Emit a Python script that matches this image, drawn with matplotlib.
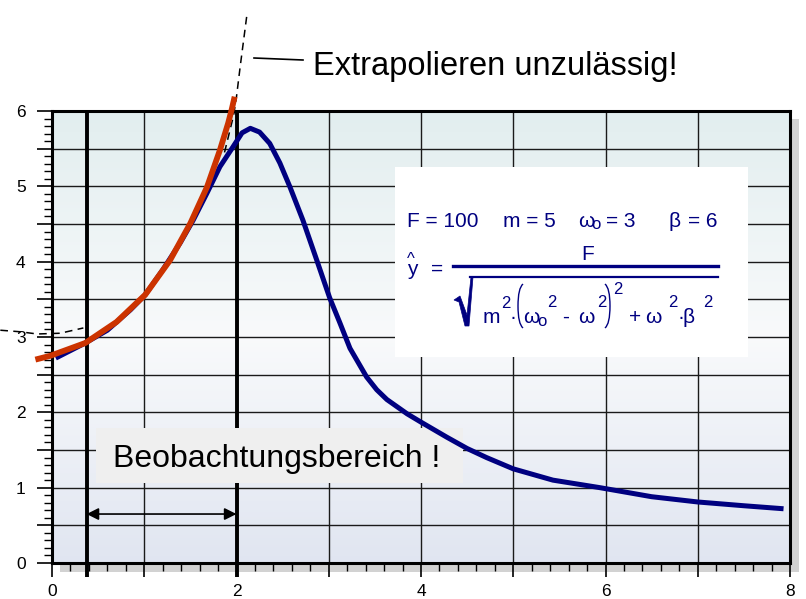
import numpy as np
import matplotlib
matplotlib.use("Agg")
import matplotlib.pyplot as plt
from matplotlib.patches import Rectangle, Polygon, PathPatch
from matplotlib.path import Path
from matplotlib.lines import Line2D
from matplotlib.ticker import MultipleLocator, FuncFormatter

plt.rcParams['font.family'] = ['Liberation Sans', 'DejaVu Sans']

# Messkurve (blau)
blue_x = [0.04, 0.36, 0.6, 0.85, 1.01, 1.2, 1.39, 1.53, 1.68, 1.82, 1.96, 2.06, 2.15, 2.25, 2.36,
          2.47, 2.58, 2.72, 2.87, 3.01, 3.12, 3.23, 3.41, 3.52, 3.63, 3.85, 4.0, 4.28, 4.5, 4.71,
          5.0, 5.43, 5.94, 6.5, 7.0, 7.5, 7.93]
blue_y = [2.72, 2.92, 3.09, 3.36, 3.56, 3.89, 4.25, 4.55, 4.91, 5.26, 5.52, 5.71, 5.77, 5.72, 5.57,
          5.31, 4.99, 4.55, 4.02, 3.52, 3.19, 2.85, 2.47, 2.30, 2.17, 1.98, 1.87, 1.67, 1.52, 1.40,
          1.25, 1.10, 1.0, 0.88, 0.81, 0.76, 0.72]

# Polynom im Beobachtungsbereich (orange)
fit_x = [-0.18, -0.02, 0.36, 0.7, 1.01, 1.28, 1.5, 1.68, 1.82, 1.91, 1.95, 1.98]
fit_y = [2.70, 2.75, 2.92, 3.20, 3.56, 4.02, 4.51, 4.99, 5.48, 5.84, 6.03, 6.19]

# Extrapolation (gestrichelt)
ext_hi_x = [1.87, 1.93, 1.97, 2.0, 2.04, 2.11]
ext_hi_y = [5.45, 5.75, 5.95, 6.19, 6.59, 7.25]
ext_lo_x = [-0.56, -0.35, -0.16, 0.09, 0.34]
ext_lo_y = [3.09, 3.07, 3.04, 3.05, 3.12]

range_lo, range_hi = 0.375, 2.0

W, H = 806, 599
def P(x, y):
    return (x / W, 1 - y / H)

fig = plt.figure(figsize=(W / 100, H / 100), dpi=100)
ax = fig.add_axes([52 / W, 1 - 563 / H, (790 - 52) / W, (563 - 111) / H])

# Schatten
fig.add_artist(Rectangle(P(60, 572), 739 / W, 453 / H, transform=fig.transFigure,
                         facecolor='#d2d2d2', edgecolor='none', zorder=-1))

# Hintergrundverlauf
t = np.linspace(0, 1, 256)
top = np.array([0.886, 0.933, 0.937])
mid = np.array([0.975, 0.98, 0.985])
bot = np.array([0.88, 0.90, 0.945])
cols = np.where(t[:, None] < 0.5, top + (mid - top) * (t[:, None] / 0.5),
                mid + (bot - mid) * ((t[:, None] - 0.5) / 0.5))
ax.imshow(cols[:, None, :], extent=[0, 8, 0, 6], aspect='auto', zorder=0)

ax.set_xlim(0, 8)
ax.set_ylim(0, 6)
ax.set_axisbelow(True)
ax.xaxis.set_major_locator(MultipleLocator(1))
ax.xaxis.set_minor_locator(MultipleLocator(0.2))
ax.yaxis.set_major_locator(MultipleLocator(0.5))
ax.yaxis.set_minor_locator(MultipleLocator(0.1))
ax.xaxis.set_major_formatter(FuncFormatter(lambda v, p: '%d' % v if round(v) % 2 == 0 else ''))
ax.yaxis.set_major_formatter(FuncFormatter(lambda v, p: '%d' % v if abs(v - round(v)) < 1e-6 else ''))
ax.tick_params(axis='x', which='major', length=10, width=1.2, pad=5, labelsize=12.5)
ax.tick_params(axis='x', which='minor', length=6, width=1.0)
ax.tick_params(axis='y', which='major', length=11, width=1.2, pad=8, labelsize=12.5)
ax.tick_params(axis='y', which='minor', length=6, width=1.0)
ax.grid(True, which='major', color='#1a1a1a', linewidth=1.0)
for s in ax.spines.values():
    s.set_linewidth(2.2)

# Grenzen Beobachtungsbereich
for xv in (range_lo, range_hi):
    ax.plot([xv, xv], [-0.19, 6], color='black', lw=2.8, zorder=2, clip_on=False,
            solid_capstyle='butt')

# Kasten Beobachtungsbereich
ax.add_patch(Rectangle(((96 - 52) / 92.25, (563 - 483) / 75.33), (463 - 96) / 92.25, 55 / 75.33,
                       facecolor='#efefef', edgecolor='none', zorder=3))
ax.text((113 - 52) / 92.25, (563 - 467) / 75.33, 'Beobachtungsbereich !', fontsize=23,
        va='baseline', ha='left', zorder=5)
ax.annotate('', xy=(range_lo, 0.65), xytext=(range_hi, 0.65),
            arrowprops=dict(arrowstyle='<|-|>', color='black', lw=1.2, mutation_scale=18,
                            shrinkA=0, shrinkB=0), zorder=5)

# Formelkasten
ax.add_patch(Rectangle(((395 - 52) / 92.25, (563 - 357) / 75.33), (748 - 395) / 92.25, 190 / 75.33,
                       facecolor='white', edgecolor='none', zorder=3))

# Kurven
ax.plot(blue_x, blue_y, color='#000080', lw=3.6, zorder=4, solid_capstyle='butt',
        solid_joinstyle='round')
ax.plot(fit_x, fit_y, color='#cc3300', lw=4.2, zorder=4.5, clip_on=False, solid_capstyle='butt',
        solid_joinstyle='round')
ax.plot(ext_hi_x, ext_hi_y, color='black', lw=1.1, ls=(0, (5, 3.5)), zorder=4.2, clip_on=False)
ax.plot(ext_lo_x, ext_lo_y, color='black', lw=1.1, ls=(0, (5, 3.5)), zorder=4.2, clip_on=False)

# Hinweis
fig.text(*P(313, 75), 'Extrapolieren unzulässig!', fontsize=23.5, va='baseline', ha='left')
fig.add_artist(Line2D([254 / W, 303 / W], [1 - 58 / H, 1 - 60 / H], color='black', lw=1.2))

# Formel
navy = '#000080'
def ft(x, y, s, size=15):
    fig.text(*P(x, y), s, fontsize=size, color=navy, va='baseline', ha='left', zorder=6)

def bracket(x0, x1, y0, y1):
    ym = (y0 + y1) / 2
    path = Path([P(x1, y0), P(x0, y0 + 4), P(x0, ym), P(x0, y1 - 4), P(x1, y1)],
                [Path.MOVETO, Path.CURVE3, Path.CURVE3, Path.CURVE3, Path.CURVE3])
    fig.add_artist(PathPatch(path, transform=fig.transFigure, facecolor='none',
                             edgecolor=navy, lw=1.0, zorder=6))

ft(407, 227, 'F = 100')
ft(503, 227, 'm = 5')
ft(578, 227, 'ω')
ft(591, 229, 'o', 12)
ft(606, 227, '= 3')
ft(668, 227, 'β')
ft(688, 227, '= 6')

ft(407, 275, 'y')
ft(407, 264, '^', 12)
ft(431, 275, '=')
ft(581, 260, 'F')
fig.add_artist(Line2D([453 / W, 718 / W], [1 - 266 / H] * 2, color=navy, lw=2.4, zorder=6))
fig.add_artist(Line2D([470 / W, 718 / W], [1 - 277 / H] * 2, color=navy, lw=1.6, zorder=6))
sq = [(454, 300), (460, 296), (467, 315), (471, 277), (473, 277), (469, 326), (465, 326), (459, 302)]
fig.add_artist(Polygon([P(x, y) for x, y in sq], closed=True, transform=fig.transFigure,
                       facecolor=navy, edgecolor=navy, lw=0.5, zorder=6))

ft(483, 323, 'm')
ft(501, 308, '2', 12)
ft(510, 323, '·')
bracket(518, 523, 284, 328)
ft(523, 323, 'ω')
ft(537, 326, 'o', 12)
ft(547, 307, '2', 12)
ft(562, 323, '-')
ft(578, 323, 'ω')
ft(597, 307, '2', 12)
bracket(610, 605, 284, 328)
ft(613, 294, '2', 12)
ft(629, 323, '+')
ft(645, 323, 'ω')
ft(668, 307, '2', 12)
ft(677, 323, '·')
ft(683, 323, 'β')
ft(703, 307, '2', 12)

fig.savefig('out.png', dpi=100)
